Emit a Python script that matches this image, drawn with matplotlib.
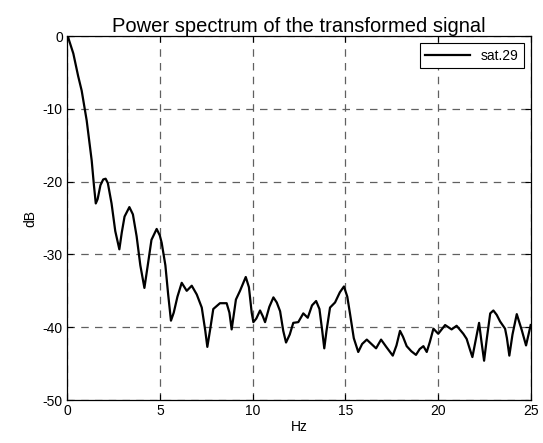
import matplotlib
matplotlib.use('Agg')
import matplotlib.pyplot as plt

plt.rcParams['font.family'] = ['Liberation Sans', 'DejaVu Sans']
plt.rcParams['axes.unicode_minus'] = False

# frequency (Hz) and power (dB)
freq = [0.05, 0.1, 0.34, 0.6, 0.79, 1.06, 1.33, 1.45, 1.55, 1.65, 1.8, 1.95,
        2.08, 2.2, 2.4, 2.6, 2.82, 2.95, 3.1, 3.36, 3.55, 3.75, 3.95, 4.17,
        4.35, 4.55, 4.83, 5.0, 5.1, 5.3, 5.45, 5.6, 5.75, 5.95, 6.18, 6.45,
        6.72, 6.99, 7.26, 7.45, 7.56, 7.7, 7.88, 8.24, 8.6, 8.75, 8.87, 9.0,
        9.1, 9.32, 9.63, 9.8, 9.95, 10.04, 10.2, 10.4, 10.55, 10.67, 10.9,
        11.12, 11.3, 11.48, 11.65, 11.8, 12.0, 12.19, 12.46, 12.73, 12.97,
        13.2, 13.42, 13.6, 13.75, 13.86, 13.98, 14.17, 14.44, 14.7, 14.92,
        15.1, 15.25, 15.45, 15.69, 15.9, 16.15, 16.4, 16.65, 16.92, 17.2,
        17.55, 17.75, 17.94, 18.1, 18.3, 18.55, 18.8, 19.0, 19.2, 19.38,
        19.55, 19.74, 20.0, 20.37, 20.72, 20.99, 21.35, 21.53, 21.7, 21.84,
        22.0, 22.2, 22.33, 22.47, 22.62, 22.8, 22.97, 23.15, 23.33, 23.6,
        23.7, 23.83, 24.0, 24.23, 24.5, 24.73, 24.98]
power_db = [0.0, -0.5, -2.4, -5.5, -7.5, -11.6, -17.1, -20.5, -23.0, -22.4,
            -20.5, -19.7, -19.6, -20.2, -23.0, -26.8, -29.3, -27.0, -24.8,
            -23.5, -24.5, -27.5, -31.5, -34.6, -31.5, -28.0, -26.5, -27.4,
            -28.4, -31.5, -35.5, -39.1, -38.0, -35.8, -33.9, -35.0, -34.3,
            -35.5, -37.3, -40.5, -42.7, -40.5, -37.5, -36.7, -36.7, -38.0,
            -40.3, -38.0, -36.2, -35.0, -33.1, -34.5, -38.0, -39.3, -38.8,
            -37.7, -38.5, -39.3, -37.2, -35.9, -36.6, -37.8, -40.5, -42.1,
            -41.0, -39.4, -39.3, -38.1, -38.7, -37.0, -36.4, -37.5, -40.5,
            -42.9, -40.5, -37.3, -36.6, -35.2, -34.4, -35.8, -38.2, -41.5,
            -43.4, -42.3, -41.7, -42.3, -42.9, -41.7, -42.7, -43.9, -42.5,
            -40.5, -41.3, -42.6, -43.3, -43.8, -43.0, -42.6, -43.4, -42.0,
            -40.2, -40.9, -39.7, -40.3, -39.8, -40.9, -41.6, -43.0, -44.1,
            -42.0, -39.4, -42.0, -44.6, -41.5, -38.1, -37.7, -38.3, -39.2,
            -40.2, -41.5, -43.9, -41.0, -38.2, -40.4, -42.5, -39.7]

xticks = [0, 5, 10, 15, 20, 25]
yticks = [-50, -40, -30, -20, -10, 0]

fig = plt.figure(figsize=(5.43, 4.43), dpi=100)
ax = fig.add_axes([0.1234, 0.097, 0.8546, 0.8217])

ax.plot(freq, power_db, color='black', linewidth=1.6, label='sat.29')

ax.set_xlim(0, 25)
ax.set_ylim(-50, 0)
ax.set_xticks(xticks)
ax.set_yticks(yticks)
ax.tick_params(direction='in', top=True, right=True, labelsize=10,
               length=4, width=0.8, pad=3)
ax.grid(True, linestyle=(0, (6, 5)), color='#606060', linewidth=0.9)
for sp in ax.spines.values():
    sp.set_linewidth(0.9)

ax.set_title('Power spectrum of the transformed signal', fontsize=14.5, pad=3)
ax.set_xlabel('Hz', fontsize=10, labelpad=1)
ax.set_ylabel('dB', fontsize=10, labelpad=4)

leg = ax.legend(loc='upper right', fontsize=10, fancybox=False,
                framealpha=1, edgecolor='black', handlelength=3.2,
                borderaxespad=0.5)
leg.get_frame().set_linewidth(0.8)

fig.savefig('out.png', dpi=100)
